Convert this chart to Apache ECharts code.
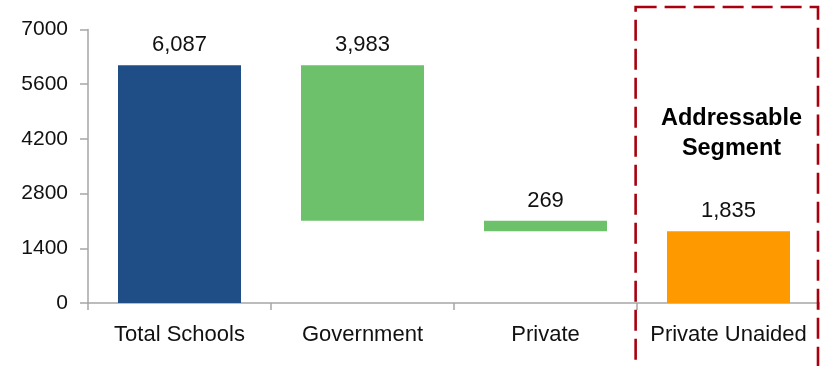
<!DOCTYPE html>
<html>
<head>
<meta charset="utf-8">
<script src="https://cdn.jsdelivr.net/npm/echarts@6/dist/echarts.min.js"></script>
<style>
  html, body { margin: 0; padding: 0; background: #fff; }
  #chart { width: 820px; height: 366px; }
</style>
</head>
<body>
<div id="chart"></div>
<script>
// School counts, shown as a waterfall from the total down to the private unaided share
const categories = ['Total Schools', 'Government', 'Private', 'Private Unaided'];
const values = [6087, 3983, 269, 1835];
const steps = ['total', 'down', 'down', 'total'];
const barColors = ['#1F4E87', '#6CC16A', '#6CC16A', '#FF9900'];
const yTicks = [0, 1400, 2800, 4200, 5600, 7000];

// invisible base for each floating bar
const bases = [];
let running = 0;
values.forEach((v, i) => {
  if (steps[i] === 'total') { bases.push(0); running = v; }
  else { running -= v; bases.push(running); }
});

const chart = echarts.init(document.getElementById('chart'));
const font = 'Liberation Sans, Arial, sans-serif';

chart.setOption({
  animation: false,
  grid: { left: 88, top: 29.5, width: 735, height: 273.5, containLabel: false },
  xAxis: {
    type: 'category',
    data: categories,
    axisLine: { lineStyle: { color: '#A6A6A6', width: 1.5 } },
    axisTick: { show: true, interval: 0, alignWithLabel: false, length: 7, lineStyle: { color: '#A6A6A6', width: 1.5 } },
    axisLabel: { interval: 0, hideOverlap: false, color: '#111', fontSize: 22, fontFamily: font, margin: 21 }
  },
  yAxis: {
    type: 'value',
    min: yTicks[0],
    max: yTicks[yTicks.length - 1],
    interval: yTicks[1] - yTicks[0],
    splitLine: { show: false },
    axisLine: { show: true, lineStyle: { color: '#A6A6A6', width: 1.5 } },
    axisTick: { show: true, length: 8, lineStyle: { color: '#A6A6A6', width: 1.5 } },
    axisLabel: { color: '#111', fontSize: 21, fontFamily: font, margin: 20, formatter: v => String(v) }
  },
  series: [
    {
      type: 'bar',
      stack: 'w',
      barWidth: 123,
      silent: true,
      itemStyle: { color: 'transparent' },
      data: bases
    },
    {
      type: 'bar',
      stack: 'w',
      barWidth: 123,
      data: values.map((v, i) => ({ value: v, itemStyle: { color: barColors[i] } })),
      label: {
        show: true,
        position: 'top',
        distance: 9,
        color: '#111',
        fontSize: 22,
        fontFamily: font,
        formatter: p => p.value.toLocaleString('en-US')
      }
    }
  ]
});

// dashed frame round the last category, placed from the axis scale
const edge = chart.convertToPixel({ xAxisIndex: 0 }, categories[3]);
const half = 735 / categories.length / 2;
const frameLeft = edge - half - 1;
chart.setOption({
  graphic: [
    {
      type: 'rect',
      shape: { x: frameLeft, y: 7, width: 818 - frameLeft, height: 400 },
      style: { fill: 'none', stroke: '#A8000F', lineWidth: 2.6, lineDash: [21, 8] },
      z: 10
    },
    {
      type: 'text',
      x: edge + 3,
      y: 134,
      style: {
        text: 'Addressable\nSegment',
        align: 'center',
        verticalAlign: 'middle',
        font: 'bold 23.5px Liberation Sans, Arial, sans-serif',
        lineHeight: 30,
        fill: '#000'
      }
    }
  ]
});
</script>
</body>
</html>
